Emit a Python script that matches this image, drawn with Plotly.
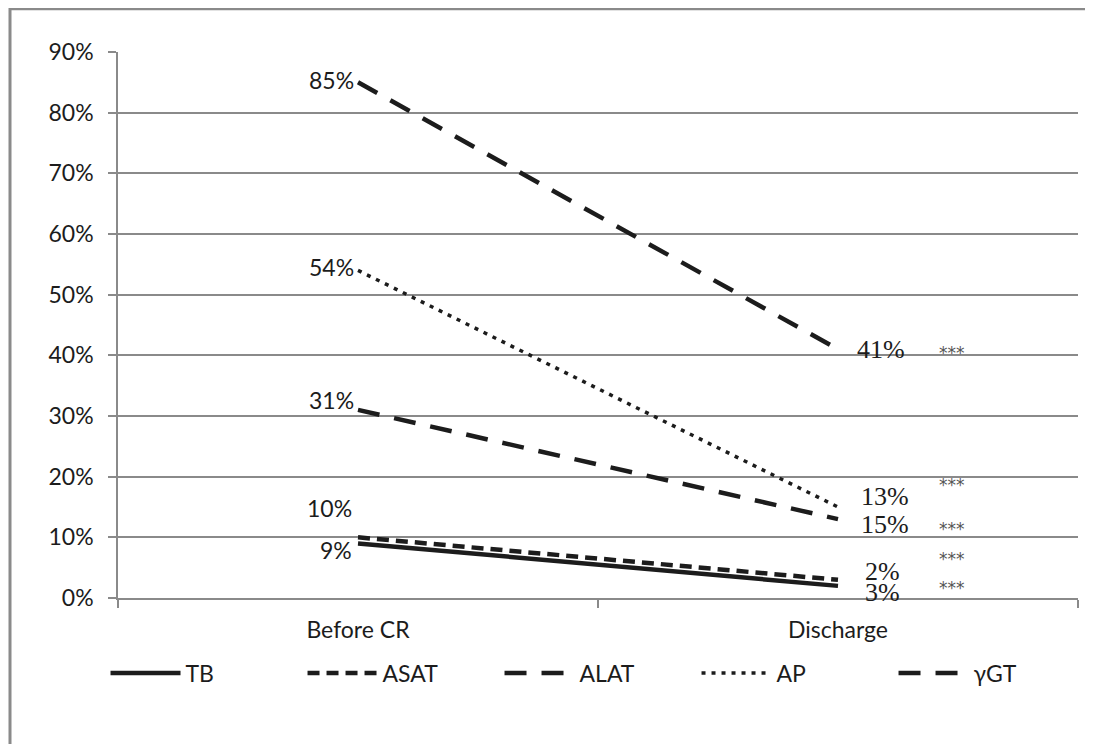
import plotly.graph_objects as go

# ---- data ----
categories = ["Before CR", "Discharge"]
series_names = ["TB", "ASAT", "ALAT", "AP", "γGT"]
tb = [9, 2]
asat = [10, 3]
alat = [31, 13]
ap = [54, 15]
ggt = [85, 41]
series_values = [tb, asat, alat, ap, ggt]
significance = ["***", "***", "***", "***", "***"]
y_ticks = [0, 10, 20, 30, 40, 50, 60, 70, 80, 90]

# ---- styles ----
INK = "#1c1c1c"
GRID = "#8a8a8a"
FONT = "Lato, 'Open Sans', sans-serif"
SERIF = "'Liberation Serif', 'DejaVu Serif', serif"
dashes = ["solid", "12px,7px", "22px,15px", "4px,6px", "22px,15px"]
widths = [4.5, 4.5, 4.5, 3.5, 4.5]
# label offsets (pixels) for before / discharge labels
before_shift = [(-6, -7), (-6, 29), (-4, 10), (-4, 3), (-4, 2)]
after_shift = [(28, 14), (28, -13), (24, 23), (24, -17), (20, 0)]
star_shift = [27, -8, 34, -22, -4]

fig = go.Figure()
for name, vals, d, w in zip(series_names, series_values, dashes, widths):
    fig.add_trace(go.Scatter(
        x=categories, y=[v / 100 for v in vals], mode="lines", name=name,
        line=dict(color=INK, width=w, dash=d),
    ))

annotations = []
for i, vals in enumerate(series_values):
    bx, by = before_shift[i]
    annotations.append(dict(
        x=categories[0], y=vals[0] / 100, xref="x", yref="y", text=f"{vals[0]}%",
        showarrow=False, xanchor="right", yanchor="middle", xshift=bx + 2, yshift=by,
        font=dict(family=FONT, size=23, color=INK)))
    ax, ay = after_shift[i]
    annotations.append(dict(
        x=categories[1], y=vals[1] / 100, xref="x", yref="y", text=f"{vals[1]}%",
        showarrow=False, xanchor="left", yanchor="middle", xshift=ax - 3, yshift=ay,
        font=dict(family=SERIF, size=26, color=INK)))
    annotations.append(dict(
        x=categories[1], y=vals[1] / 100, xref="x", yref="y", text=significance[i],
        showarrow=False, xanchor="center", yanchor="middle", xshift=114, yshift=star_shift[i],
        font=dict(family="'DejaVu Sans', sans-serif", size=17, color="#555555")))

# page body adds an 8px offset; figure is sized so that the plot area lands on the reference
fig.update_layout(
    width=1085, height=736,
    margin=dict(l=110, r=15, t=44, b=146),
    paper_bgcolor="white", plot_bgcolor="white",
    font=dict(family=FONT, size=23, color=INK),
    showlegend=True,
    legend=dict(orientation="h", x=-0.013, xanchor="left", y=-0.098, yanchor="top",
                itemwidth=70, entrywidth=112, font=dict(family=FONT, size=23, color=INK),
                bgcolor="rgba(0,0,0,0)", traceorder="normal"),
    annotations=annotations,
    shapes=[dict(type="rect", xref="paper", yref="paper",
                 x0=-0.1125, x1=1.03, y0=-0.3, y1=1.079,
                 line=dict(color=GRID, width=3), fillcolor="rgba(0,0,0,0)", layer="below")],
)
fig.update_xaxes(
    type="category", range=[-0.5, 1.5], tickson="boundaries",
    showline=True, linecolor=GRID, linewidth=2, showgrid=False,
    ticks="outside", ticklen=8, tickcolor=GRID, tickwidth=1.5,
    ticklabelstandoff=10, tickfont=dict(family=FONT, size=23, color=INK),
)
fig.update_yaxes(
    range=[0, 0.9], tickvals=[t / 100 for t in y_ticks],
    ticktext=[f"{t}%" for t in y_ticks],
    showgrid=True, gridcolor=GRID, gridwidth=2, zeroline=False,
    showline=True, linecolor=GRID, linewidth=1.5,
    ticks="outside", ticklen=8, tickcolor=GRID, tickwidth=2,
    ticklabelstandoff=10, tickfont=dict(family=FONT, size=23, color=INK),
)

fig.write_html("out.html")
